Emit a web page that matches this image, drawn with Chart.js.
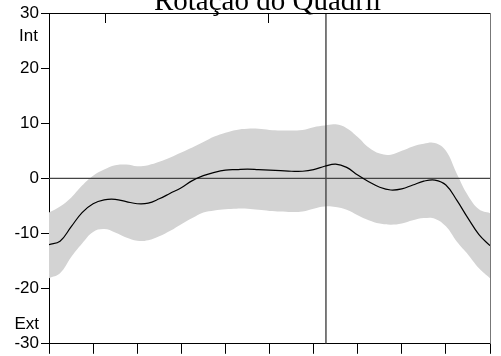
<!DOCTYPE html>
<html>
<head>
<meta charset="utf-8">
<script src="https://cdn.jsdelivr.net/npm/chart.js@4"></script>
<style>
    html, body { margin: 0; padding: 0; background: #fff; }
    #grafico { display: block; }
</style>
</head>
<body>
<div style="width:501px;height:356px"><canvas id="grafico" width="501" height="356"></canvas></div>
<script>
var titulo = 'Rotação do Quadril';
var ciclo = [0, 2.5, 5, 7.5, 10, 12.5, 15, 17.5, 20, 22.5, 25, 27.5, 30, 32.5, 35, 37.5, 40, 42.5, 45, 47.5, 50,
    52.5, 55, 57.5, 60, 62.5, 65, 67.5, 70, 72.5, 75, 77.5, 80, 82.5, 85, 87.5, 90, 92.5, 95, 97.5, 100];
var media = [-12.0, -11.4, -8.8, -6.2, -4.6, -3.9, -3.8, -4.2, -4.6, -4.5, -3.7, -2.7, -1.7, -0.4, 0.5, 1.1, 1.5, 1.6, 1.7, 1.6, 1.5,
    1.4, 1.3, 1.3, 1.6, 2.2, 2.6, 2.0, 0.6, -0.6, -1.6, -2.1, -1.9, -1.2, -0.5, -0.3, -1.2, -4.0, -7.2, -10.2, -12.2];
var limiteSup = [-6.2, -5.1, -3.5, -1.3, 0.5, 1.6, 2.4, 2.5, 2.2, 2.4, 3.0, 3.8, 4.7, 5.6, 6.6, 7.6, 8.3, 8.8, 9.0, 9.0, 8.8,
    8.7, 8.7, 8.8, 9.3, 9.6, 9.8, 9.1, 7.5, 5.6, 4.5, 4.3, 5.0, 5.8, 6.3, 6.4, 5.0, 0.8, -3.1, -5.6, -6.3];
var limiteInf = [-18.1, -17.2, -14.3, -11.8, -9.7, -9.2, -9.8, -10.7, -11.3, -11.2, -10.5, -9.5, -8.3, -7.2, -6.2, -5.8, -5.6, -5.5, -5.5, -5.7, -5.9,
    -6.0, -6.1, -6.0, -5.5, -5.1, -5.2, -5.7, -6.7, -7.6, -8.2, -8.4, -8.2, -7.6, -7.2, -7.3, -8.7, -11.5, -13.8, -16.3, -18.1];
var ticksY = [-30, -20, -10, 0, 10, 20, 30];
var retiradaPe = 62.8;          // linha vertical (retirada do pe)
var eventosTopo = [12.7, 49.7]; // marcas curtas no topo

function pontos(ys) {
    var p = [];
    for (var i = 0; i < ciclo.length; i++) {
        p.push({ x: ciclo[i], y: ys[i] });
    }
    return p;
}

// moldura, titulo e rotulos Int / Ext
var extras = {
    id: 'extras',
    afterDatasetsDraw: function(chart) {
        var c = chart.ctx;
        var a = chart.chartArea;
        var sx = chart.scales.x;
        c.save();
        c.lineWidth = 1;
        c.strokeStyle = '#000';
        c.beginPath();
        c.moveTo(a.left, a.top + 0.5);
        c.lineTo(a.right, a.top + 0.5);
        c.stroke();
        c.strokeStyle = '#777';
        c.beginPath();
        c.moveTo(a.right + 0.5, a.top);
        c.lineTo(a.right + 0.5, a.bottom);
        c.stroke();
        c.strokeStyle = '#000';
        for (var i = 0; i < eventosTopo.length; i++) {
            var px = Math.round(sx.getPixelForValue(eventosTopo[i])) + 0.5;
            c.beginPath();
            c.moveTo(px, a.top);
            c.lineTo(px, a.top + 10);
            c.stroke();
        }
        c.restore();
    },
    afterDraw: function(chart) {
        var c = chart.ctx;
        var a = chart.chartArea;
        var sy = chart.scales.y;
        c.save();
        c.fillStyle = '#000';
        c.font = '29px "Liberation Serif", "Times New Roman", serif';
        c.textAlign = 'center';
        c.textBaseline = 'alphabetic';
        c.fillText(titulo, (a.left + a.right) / 2 - 2, 10);
        c.font = '17px "Liberation Sans", Arial, sans-serif';
        c.textAlign = 'right';
        c.fillText('Int', 38, sy.getPixelForValue(30) + 28);
        c.fillText('Ext', 39, sy.getPixelForValue(-30) - 15);
        c.restore();
    }
};

function dibujar() {
    var ctx = document.getElementById('grafico');
    new Chart(ctx, {
        type: 'line',
        data: {
            datasets: [{
                data: pontos(media),
                borderColor: '#000',
                borderWidth: 1.2,
                pointRadius: 0,
                tension: 0.4,
                fill: false,
                order: 0
            }, {
                data: [{ x: 0, y: 0 }, { x: 100, y: 0 }],
                borderColor: '#444',
                borderWidth: 1.4,
                pointRadius: 0,
                fill: false,
                order: 1
            }, {
                data: [{ x: retiradaPe, y: -30 }, { x: retiradaPe, y: 30 }],
                borderColor: '#444',
                borderWidth: 1.4,
                pointRadius: 0,
                fill: false,
                order: 1
            }, {
                data: pontos(limiteSup),
                borderWidth: 0,
                borderColor: 'rgba(0,0,0,0)',
                backgroundColor: '#d3d3d3',
                pointRadius: 0,
                tension: 0.4,
                fill: '+1',
                order: 2
            }, {
                data: pontos(limiteInf),
                borderWidth: 0,
                borderColor: 'rgba(0,0,0,0)',
                pointRadius: 0,
                tension: 0.4,
                fill: false,
                order: 3
            }]
        },
        options: {
            responsive: false,
            animation: false,
            events: [],
            layout: { padding: { left: 0, top: 13, right: 11, bottom: 0 } },
            plugins: {
                legend: { display: false },
                tooltip: { enabled: false },
                title: { display: false }
            },
            scales: {
                x: {
                    type: 'linear',
                    min: 0,
                    max: 100,
                    ticks: { stepSize: 10, display: false },
                    grid: { drawOnChartArea: false, tickLength: 10, tickColor: '#000', tickWidth: 1 },
                    border: { color: '#000', width: 1 },
                    afterFit: function(s) { s.height = 12; }
                },
                y: {
                    min: -30,
                    max: 30,
                    afterBuildTicks: function(s) {
                        s.ticks = ticksY.map(function(v) { return { value: v }; });
                    },
                    ticks: {
                        color: '#000',
                        padding: 2,
                        font: { family: '"Liberation Sans", Arial, sans-serif', size: 17 }
                    },
                    grid: { drawOnChartArea: false, tickLength: 8, tickColor: '#000', tickWidth: 1 },
                    border: { color: '#000', width: 1 },
                    afterFit: function(s) { s.width = 49; }
                }
            }
        },
        plugins: [extras]
    });
}

dibujar();
</script>
</body>
</html>
